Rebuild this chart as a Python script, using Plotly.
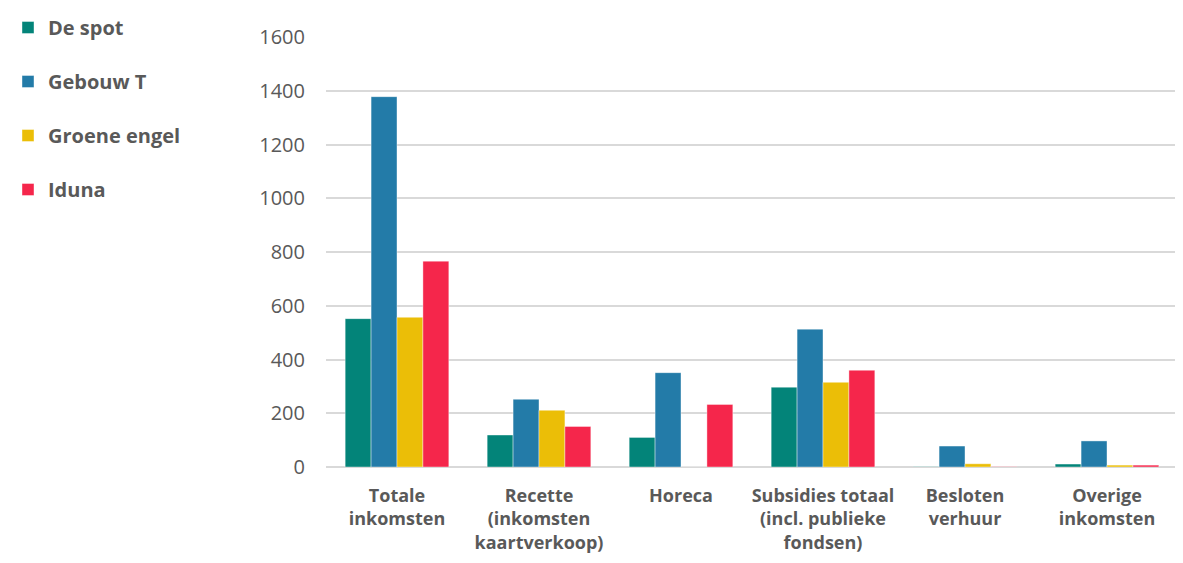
import plotly.graph_objects as go

categories = ["Totale<br>inkomsten", "Recette<br>(inkomsten<br>kaartverkoop)", "Horeca",
              "Subsidies totaal<br>(incl. publieke<br>fondsen)", "Besloten<br>verhuur", "Overige<br>inkomsten"]
series_names = ["De spot", "Gebouw T", "Groene engel", "Iduna"]
de_spot = [552, 119, 110, 297, 1, 11]
gebouw_t = [1378, 252, 351, 513, 78, 97]
groene_engel = [557, 211, 0, 315, 12, 7]
iduna = [766, 151, 233, 360, 1, 7]
colors = ["#038479", "#237BA8", "#EBBE07", "#F5264B"]

fig = go.Figure()
for i, (name, vals) in enumerate(zip(series_names, [de_spot, gebouw_t, groene_engel, iduna])):
    fig.add_trace(go.Bar(
        x=categories, y=vals, name=name, legendgroup=name,
        marker=dict(color=colors[i], line=dict(color="rgba(255,255,255,0.4)", width=1)),
    ))

fig.update_layout(
    width=1183, height=563,
    paper_bgcolor="white", plot_bgcolor="white",
    margin=dict(l=318, r=13, t=29, b=104),
    barmode="group", bargap=0.27, bargroupgap=0,
    font=dict(family="Open Sans", color="#595959"),
    legend=dict(
        xref="container", yref="container", x=0.0, y=1.02,
        xanchor="left", yanchor="top",
        font=dict(size=20, color="#595959", family="Open Sans", weight="bold"),
        tracegroupgap=25, itemwidth=30,
    ),
    showlegend=True,
)
fig.update_xaxes(
    tickfont=dict(size=18, color="#595959", weight="bold"),
    showgrid=False, showline=False, ticks="", ticklabelstandoff=16,
)
fig.update_yaxes(
    range=[0, 1600], dtick=200,
    tickfont=dict(size=20, color="#595959"),
    showgrid=True, gridcolor="#d9d9d9", gridwidth=1.5,
    zeroline=True, zerolinecolor="#d9d9d9", zerolinewidth=1.5,
    ticklabelstandoff=20,
)
fig.write_html("out.html")
